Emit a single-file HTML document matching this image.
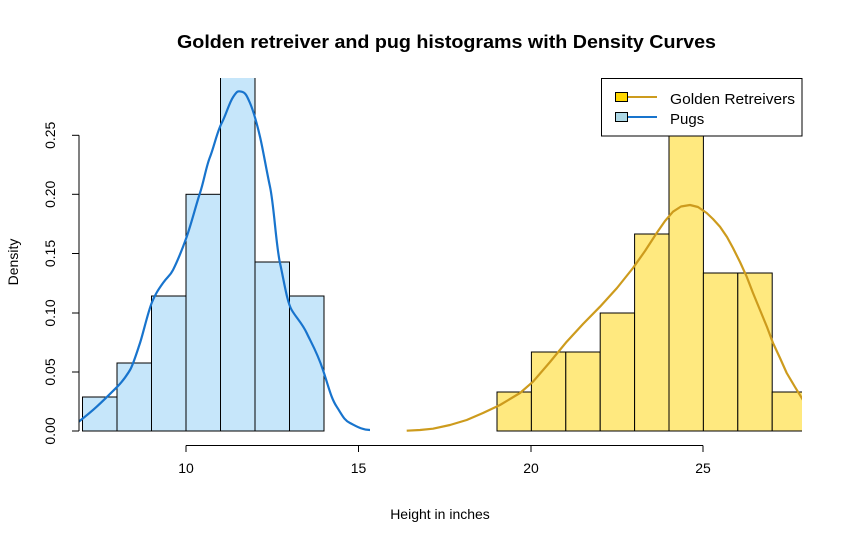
<!DOCTYPE html>
<html><head><style>body{margin:0;background:#fff}</style></head><body>
<svg width="843" height="543" xmlns="http://www.w3.org/2000/svg" font-family="Liberation Sans, Arial, sans-serif">
<rect width="843" height="543" fill="#fff"/>
<text x="177" y="48" font-size="18" font-weight="bold" textLength="539" lengthAdjust="spacingAndGlyphs">Golden retreiver and pug histograms with Density Curves</text>
<defs><clipPath id="c"><rect x="79" y="78" width="723" height="354"/></clipPath></defs>
<g clip-path="url(#c)" stroke="#000" stroke-width="1">
<g fill="#C6E6FA">
<rect x="82.5" y="397" width="34.5" height="34"/>
<rect x="117" y="363" width="34.5" height="68"/>
<rect x="151.5" y="296" width="34.5" height="135"/>
<rect x="186" y="194.3" width="34.5" height="236.7"/>
<rect x="220.5" y="40" width="34.5" height="391"/>
<rect x="255" y="262" width="34.5" height="169"/>
<rect x="289.5" y="296" width="34.5" height="135"/>
</g>
<g fill="#FFE97F">
<rect x="497" y="392" width="34.4" height="39"/>
<rect x="531.4" y="352" width="34.4" height="79"/>
<rect x="565.8" y="352" width="34.4" height="79"/>
<rect x="600.2" y="313" width="34.4" height="118"/>
<rect x="634.6" y="234" width="34.4" height="197"/>
<rect x="669" y="40" width="34.4" height="391"/>
<rect x="703.4" y="273" width="34.4" height="158"/>
<rect x="737.8" y="273" width="34.4" height="158"/>
<rect x="772.2" y="392" width="34.4" height="39"/>
</g>
<path fill="none" stroke="#1874CD" stroke-width="2.2" d="M78.7,421.7 C86,416 92,411 96.7,406.7 S112,392 117.3,386.7 S127,375 130,370 S137,352 140,343 S148,312 151.7,303 S158,290 163,283 S170,276 173,270 S182,250 186.7,236.7 S196,205 200,193 S206,167 210,157 S217,132 221.7,123 S229,103 233.3,96.7 S238,91 241.7,91.7 S247,96 250,103 S257,124 260,136.7 S266,168 270,186.7 S276,245 280,263 S287,302 291.7,310 S302,323 306.7,333 S317,352 323,370 S331,398 336.7,406.7 S344,420 350,423 S362,430 370,430"/>
<polyline fill="none" stroke="#CD9B1D" stroke-width="2.2" stroke-linejoin="round" points="406.7,430.7 420,430 433,428.7 450,425 466.7,420 483,413 500,405 520,393 533,381.7 550,362 566.7,341.7 583,324 600,306.7 617,288 633,268 645,251 656.7,233 665,221 673,211.7 681,206.5 690,205 698,207 706.7,213 713,219 720,226.7 727,237 733,248 740,262 746.7,276.7 753,293 760,310 767,327 773,343 780,358 786.7,373 795,387 803,400"/>
</g>
<g stroke="#000" stroke-width="1" fill="none">
<line x1="79" y1="135.3" x2="79" y2="431"/>
<line x1="72" y1="431" x2="79" y2="431"/><line x1="72" y1="372" x2="79" y2="372"/><line x1="72" y1="313" x2="79" y2="313"/><line x1="72" y1="253.5" x2="79" y2="253.5"/><line x1="72" y1="194.3" x2="79" y2="194.3"/><line x1="72" y1="135.3" x2="79" y2="135.3"/>
<line x1="186" y1="445.5" x2="703" y2="445.5"/>
<line x1="186" y1="445.5" x2="186" y2="452"/><line x1="358.5" y1="445.5" x2="358.5" y2="452"/><line x1="531" y1="445.5" x2="531" y2="452"/><line x1="703" y1="445.5" x2="703" y2="452"/>
</g>
<g font-size="14" text-anchor="middle">
<text x="186" y="473">10</text><text x="358.5" y="473">15</text><text x="531" y="473">20</text><text x="703" y="473">25</text>
<text x="440" y="519">Height in inches</text>
<g transform="translate(55,0)">
<text transform="translate(0,431) rotate(-90)">0.00</text>
<text transform="translate(0,372) rotate(-90)">0.05</text>
<text transform="translate(0,313) rotate(-90)">0.10</text>
<text transform="translate(0,253.5) rotate(-90)">0.15</text>
<text transform="translate(0,194.3) rotate(-90)">0.20</text>
<text transform="translate(0,135.3) rotate(-90)">0.25</text>
</g>
<text transform="translate(18,262) rotate(-90)">Density</text>
</g>
<rect x="601.5" y="78.5" width="200.5" height="57.5" fill="#fff" stroke="#000"/>
<line x1="627" y1="97" x2="657" y2="97" stroke="#CD9B1D" stroke-width="2"/>
<rect x="615.5" y="92.5" width="12" height="9" fill="#FFD700" stroke="#000"/>
<line x1="627" y1="117" x2="657" y2="117" stroke="#1874CD" stroke-width="2"/>
<rect x="615.5" y="112.5" width="12" height="9" fill="#ADD8E6" stroke="#000"/>
<text x="670" y="104" font-size="15" textLength="125" lengthAdjust="spacingAndGlyphs">Golden Retreivers</text>
<text x="670" y="124" font-size="15">Pugs</text>
</svg>
</body></html>
